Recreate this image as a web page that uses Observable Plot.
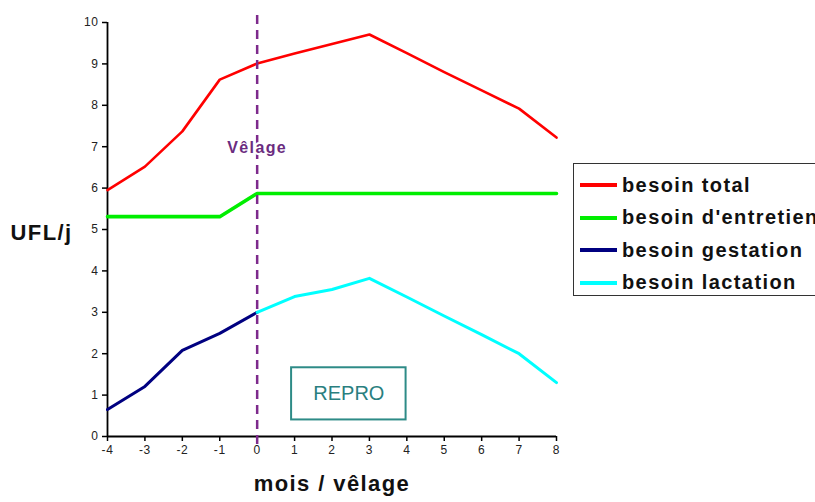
<!DOCTYPE html>
<html><head><meta charset="utf-8">
<script src="https://cdn.jsdelivr.net/npm/d3@7"></script>
<script src="https://cdn.jsdelivr.net/npm/@observablehq/plot@0.6"></script>
<style>
html,body{margin:0;padding:0;background:#fff;overflow:hidden;}
#wrap{position:relative;width:815px;height:502px;overflow:hidden;font-family:Arial,"Liberation Sans",sans-serif;}
#legend{position:absolute;left:573px;top:163px;width:260px;height:133px;border:1.5px solid #333;box-sizing:border-box;background:#fff;}
.row{position:absolute;left:6px;height:30px;display:flex;align-items:center;font-weight:bold;font-size:20px;letter-spacing:1.4px;color:#111;white-space:nowrap;}
.sw{width:37px;height:4px;margin-right:5px;}
svg text.big{letter-spacing:1.4px;}
svg g[aria-label="x-axis tick label"] text, svg g[aria-label="y-axis tick label"] text{letter-spacing:0.6px;}
</style></head>
<body><div id="wrap"></div>
<script>
const months = [-4,-3,-2,-1,0,1,2,3,4,5,6,7,8];
const besoinTotal = [5.95,6.52,7.37,8.62,9.01,9.25,9.48,9.71,9.26,8.8,8.36,7.92,7.22];
const besoinEntretien = [5.31,5.31,5.31,5.31,5.87,5.87,5.87,5.87,5.87,5.87,5.87,5.87,5.87];
const gestMonths = [-4,-3,-2,-1,0];
const besoinGestation = [0.65,1.21,2.08,2.49,3.0];
const lactMonths = [0,1,2,3,4,5,6,7,8];
const besoinLactation = [3.0,3.38,3.55,3.82,3.37,2.91,2.46,2.0,1.3];
const seriesNames = ["besoin total","besoin d'entretien","besoin gestation","besoin lactation"];
const seriesColors = ["#ff0000","#00ee00","#000080","#00ffff"];
const xTicks = [-4,-3,-2,-1,0,1,2,3,4,5,6,7,8];
const yTicks = [0,1,2,3,4,5,6,7,8,9,10];
const reproBox = [{x1:0.92, x2:3.98, y1:0.4, y2:1.66, label:"REPRO"}];
const velage = [{x:0, y:6.97, label:"Vêlage"}];

const mk = (xs, ys) => xs.map((x,i)=>({x, y: ys[i]}));
const total = mk(months, besoinTotal);
const entretien = mk(months, besoinEntretien);
const gest = mk(gestMonths, besoinGestation);
const lact = mk(lactMonths, besoinLactation);

const chart = Plot.plot({
  width: 815, height: 502,
  marginLeft: 107, marginRight: 259, marginTop: 22, marginBottom: 66,
  style: {fontFamily: "Arial, 'Liberation Sans', sans-serif", fontSize: "12px", color: "#222", background: "#fff"},
  x: {domain: [-4, 8], ticks: xTicks, tickSize: 5, label: null},
  y: {domain: [0, 10], ticks: yTicks, tickSize: 5, label: null},
  marks: [
    Plot.axisX({ticks: xTicks, tickSize: 5, tickPadding: 4, label: null, stroke: "#000", strokeWidth: 1.5, fill: "#222", tickFormat: d => String(d)}),
    Plot.axisY({ticks: yTicks, tickSize: 5, tickPadding: 4, label: null, stroke: "#000", strokeWidth: 1.5, fill: "#222", tickFormat: d => String(d)}),
    Plot.ruleY([0], {stroke: "#000", strokeWidth: 1.8}),
    Plot.ruleX([-4], {stroke: "#000", strokeWidth: 1.8}),
    Plot.rect(reproBox, {x1:"x1", x2:"x2", y1:"y1", y2:"y2", fill:"#fff", stroke:"#2e8b87", strokeWidth: 2}),
    Plot.text(reproBox, {x: d => (d.x1+d.x2)/2, y: d => (d.y1+d.y2)/2, text:"label", fill:"#2a7f7f", fontSize: 20}),
    Plot.lineY(total, {x:"x", y:"y", stroke: seriesColors[0], strokeWidth: 2.6}),
    Plot.lineY(entretien, {x:"x", y:"y", stroke: seriesColors[1], strokeWidth: 3.6}),
    Plot.lineY(gest, {x:"x", y:"y", stroke: seriesColors[2], strokeWidth: 3}),
    Plot.lineY(lact, {x:"x", y:"y", stroke: seriesColors[3], strokeWidth: 3}),
    Plot.ruleX([0], {stroke: "#7d2a8c", strokeWidth: 2.5, strokeDasharray: "9,6", insetTop: -7, insetBottom: -9}),
    Plot.text(velage, {x:"x", y:"y", text:"label", fill:"#6b2c80", fontSize: 16, fontWeight: "bold", stroke: "#fff", strokeWidth: 4, paintOrder: "stroke", className: "big"}),
    Plot.text(["UFL/j"], {frameAnchor: "left", dx: -97, dy: 3, textAnchor: "start", fontSize: 22, fontWeight: "bold", fill: "#111", className: "big"}),
    Plot.text(["mois / vêlage"], {frameAnchor: "bottom", dy: 54, fontSize: 22, fontWeight: "bold", fill: "#111", className: "big"})
  ]
});
const wrap = document.getElementById("wrap");
wrap.appendChild(chart);
chart.querySelectorAll("g.big text, .big text").forEach(t => t.style.letterSpacing = "1.4px");
const leg = document.createElement("div");
leg.id = "legend";
seriesNames.forEach((n,i)=>{
  const r = document.createElement("div");
  r.className = "row";
  r.style.top = (6 + i*32.5) + "px";
  const sw = document.createElement("div");
  sw.className = "sw"; sw.style.background = seriesColors[i];
  r.appendChild(sw);
  r.appendChild(document.createTextNode(n));
  leg.appendChild(r);
});
wrap.appendChild(leg);
</script></body></html>
